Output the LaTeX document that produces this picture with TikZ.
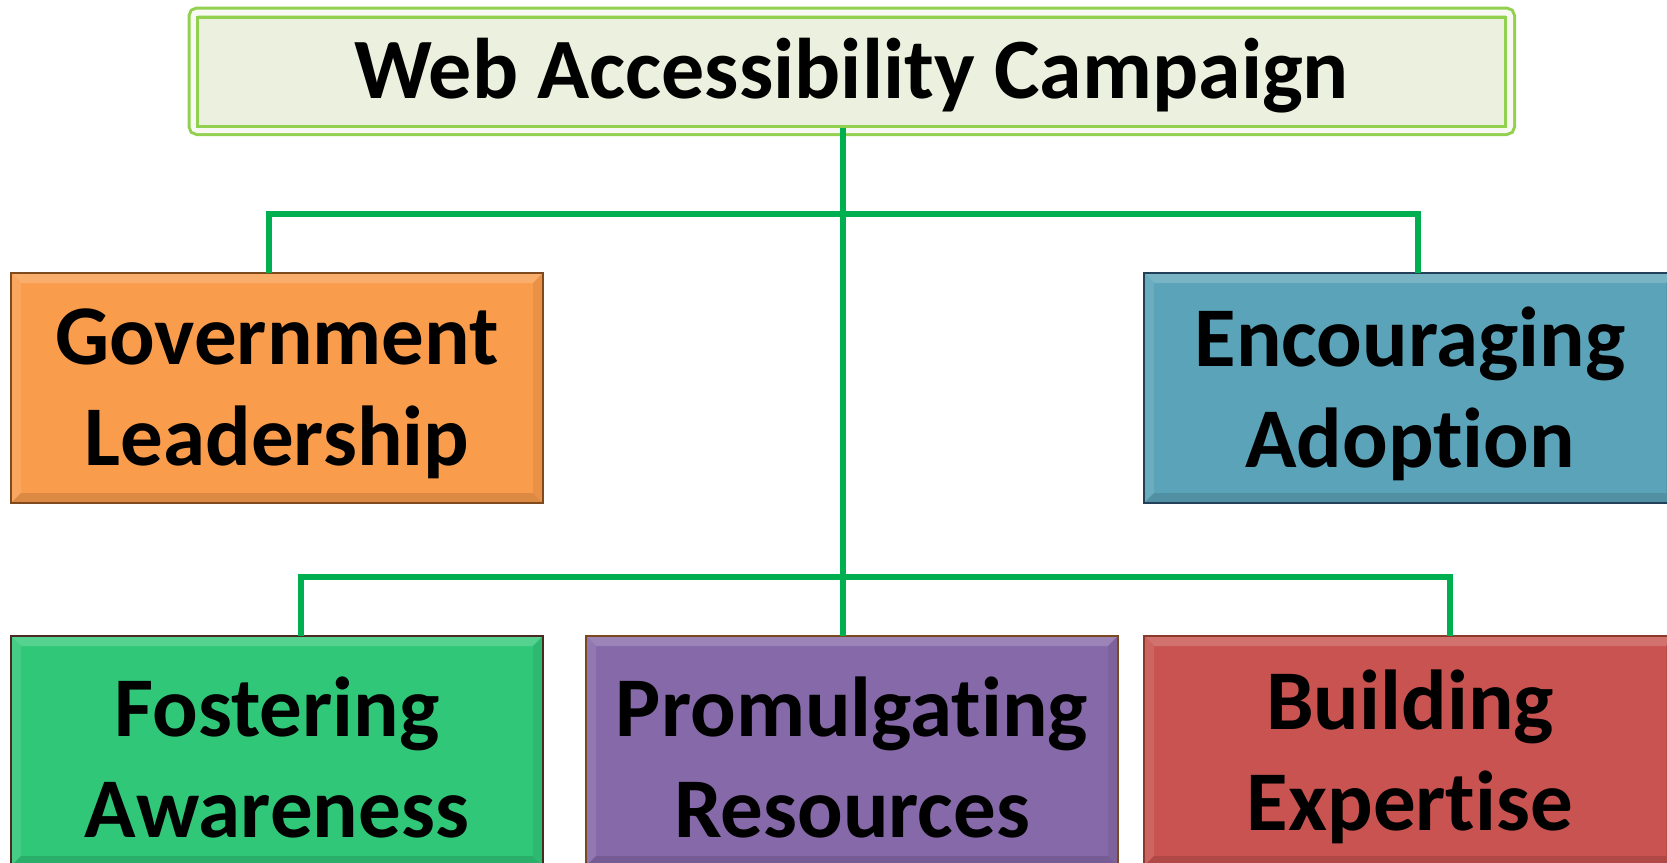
\documentclass[tikz,border=0pt]{standalone}
\usepackage{fontspec}
\setmainfont{Carlito}[Ligatures={NoCommon,NoRequired,NoContextual}]
\usetikzlibrary{calc}
\definecolor{lime}{HTML}{92D050}
\definecolor{titlefill}{HTML}{EBF1DE}
\definecolor{conngreen}{HTML}{00B050}
\definecolor{orangefill}{HTML}{F99C4C}
\definecolor{orangeedge}{HTML}{7F4A1E}
\definecolor{bluefill}{HTML}{5BA3B8}
\definecolor{blueedge}{HTML}{243F58}
\definecolor{greenfill}{HTML}{30C778}
\definecolor{greenedge}{HTML}{4A2A20}
\definecolor{purplefill}{HTML}{8669A8}
\definecolor{purpleedge}{HTML}{7A4A1E}
\definecolor{redfill}{HTML}{C85350}
\definecolor{rededge}{HTML}{8A3A2A}
\newcommand\bevelbox[2]{%
  \fill[#2!82!white] (#1.north west) -- (#1.north east) -- ($(#1.north east)+(-10,10)$) -- ($(#1.north west)+(10,10)$) -- cycle;
  \fill[#2!90!white] (#1.north west) -- (#1.south west) -- ($(#1.south west)+(10,-10)$) -- ($(#1.north west)+(10,10)$) -- cycle;
  \fill[#2!88!black] (#1.south west) -- (#1.south east) -- ($(#1.south east)+(-10,-10)$) -- ($(#1.south west)+(10,-10)$) -- cycle;
  \fill[#2!93!black] (#1.north east) -- (#1.south east) -- ($(#1.south east)+(-10,-10)$) -- ($(#1.north east)+(-10,10)$) -- cycle;
}
\begin{document}
\begin{tikzpicture}[x=1pt,y=-1pt,
  catbox/.style={rectangle, minimum width=532pt, minimum height=230pt, inner sep=0pt, outer sep=0pt,
    align=center, font=\fontsize{85}{101}\selectfont\bfseries, text=black},
  conn/.style={draw=conngreen, line width=5.5pt}]
\useasboundingbox (0,0) rectangle (1667,862);
\fill[white] (0,0) rectangle (1667,862);

% title
\draw[lime, line width=3pt, double=white!60!titlefill, double distance=6pt, rounded corners=4pt]
  (193.5,12.5) rectangle (1510,130);
\node[rectangle, fill=titlefill, draw=lime, line width=3pt, minimum width=1308pt, minimum height=109pt,
  inner sep=0pt] (top) at (851.5,71.5) {};
\node[font=\fontsize{86}{101}\selectfont\bfseries, inner sep=0pt] at ($(top.center)+(0,4)$) {Web Accessibility Campaign};

% coordinates of junctions
\coordinate (j1) at (843,214);
\coordinate (j2) at (843,577);

% category boxes
\node[catbox, fill=orangefill] (gov) at (277,388) {};
\node[catbox, fill=bluefill] (enc) at (1410,388) {};
\node[catbox, fill=greenfill] (fos) at (277,751) {};
\node[catbox, fill=purplefill] (prom) at (852,751) {};
\node[catbox, fill=redfill] (build) at (1410,751) {};

\bevelbox{gov}{orangefill}
\bevelbox{enc}{bluefill}
\bevelbox{fos}{greenfill}
\bevelbox{prom}{purplefill}
\bevelbox{build}{redfill}

\draw[orangeedge, line width=2pt] (gov.north west) rectangle (gov.south east);
\draw[blueedge, line width=2pt] (enc.north west) rectangle (enc.south east);
\draw[greenedge, line width=2pt] (fos.north west) rectangle (fos.south east);
\draw[purpleedge, line width=2pt] (prom.north west) rectangle (prom.south east);
\draw[rededge, line width=2pt] (build.north west) rectangle (build.south east);

\node[catbox] at ($(gov)+(0,6)$) {Government\\Leadership};
\node[catbox] at ($(enc)+(0,6)$) {Encouraging\\Adoption};
\node[catbox] at ($(fos)+(0,6)$) {Fostering\\Awareness};
\node[catbox] at ($(prom)+(0,6)$) {Promulgating\\Resources};
\node[catbox] at ($(build)+(0,6)$) {Building\\Expertise};

% connectors
\draw[conn] (top.south -| j1) -- (j1) -- (j2) -- (j2 |- prom.north);
\draw[conn] ([xshift=-8pt]gov.north) |- (j1) -| ([xshift=8pt]enc.north);
\draw[conn] ([xshift=24pt]fos.north) |- (j2) -| ([xshift=40pt]build.north);
\end{tikzpicture}
\end{document}
